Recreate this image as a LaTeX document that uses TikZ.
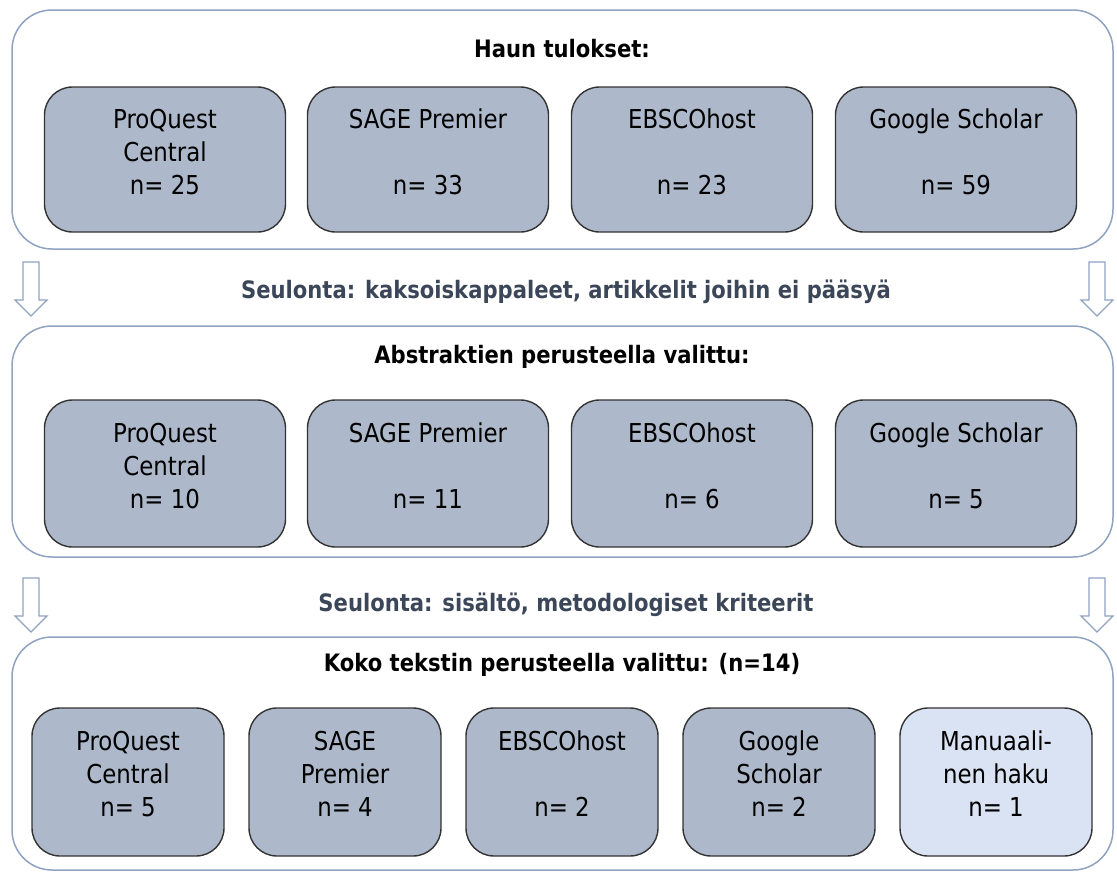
\documentclass[tikz,border=0pt]{standalone}
\usepackage{fontspec}
\setmainfont{DejaVu Sans}[FakeStretch=0.88]

\definecolor{boxfill}{HTML}{ADB9CA}
\definecolor{manfill}{HTML}{DAE3F3}
\definecolor{framecol}{HTML}{8FA3C1}
\definecolor{edgecol}{HTML}{333333}
\definecolor{screencol}{HTML}{3B4658}

\begin{document}
\begin{tikzpicture}[x=1pt,y=-1pt]
		\tikzstyle {stage} = [draw=framecol, line width=1.5pt, rounded corners=40pt, minimum width=1101pt, inner sep=0pt]
		\tikzstyle {db} = [draw=edgecol, line width=1.4pt, fill=boxfill, rounded corners=28pt, align=center, inner sep=0pt, text depth=16pt, font=\fontsize{26}{33}\selectfont]
		\tikzstyle {title} = [font=\bfseries\fontsize{24}{28}\selectfont]
		\tikzstyle {screen} = [title, text=screencol]
		\tikzstyle {blockarrow} = [draw=framecol, line width=1.2pt, fill=white]

		\useasboundingbox (0,0) rectangle (1117,873);

		% vaiheet
		\node[stage, minimum height=239pt] (haku) at (562.5,129.5) {};
		\node[stage, minimum height=231pt] (abstr) at (562.5,441.5) {};
		\node[stage, minimum height=233pt] (koko) at (562.5,753.5) {};

		\node[title] (hakuT) at (562,49) {Haun tulokset:};
		\node[title] (abstrT) at (562,357) {Abstraktien perusteella valittu:};
		\node[title] (kokoT) at (562,665) {Koko tekstin perusteella valittu: (n=14)};

		% haun tulokset
		\node[db, minimum width=241pt, minimum height=145pt] (pq1) at (165,159.5) {ProQuest\\Central\\n= 25};
		\node[db, minimum width=241pt, minimum height=145pt] (sage1) at (428,159.5) {SAGE Premier\\\mbox{}\\n= 33};
		\node[db, minimum width=241pt, minimum height=145pt] (ebsco1) at (692,159.5) {EBSCOhost\\\mbox{}\\n= 23};
		\node[db, minimum width=241pt, minimum height=145pt] (gs1) at (956,159.5) {Google Scholar\\\mbox{}\\n= 59};

		% abstraktit
		\node[db, minimum width=241pt, minimum height=147pt] (pq2) at (165,473.5) {ProQuest\\Central\\n= 10};
		\node[db, minimum width=241pt, minimum height=147pt] (sage2) at (428,473.5) {SAGE Premier\\\mbox{}\\n= 11};
		\node[db, minimum width=241pt, minimum height=147pt] (ebsco2) at (692,473.5) {EBSCOhost\\\mbox{}\\n= 6};
		\node[db, minimum width=241pt, minimum height=147pt] (gs2) at (956,473.5) {Google Scholar\\\mbox{}\\n= 5};

		% koko teksti
		\node[db, minimum width=192pt, minimum height=148pt] (pq3) at (128,782) {ProQuest\\Central\\n= 5};
		\node[db, minimum width=192pt, minimum height=148pt] (sage3) at (345,782) {SAGE\\Premier\\n= 4};
		\node[db, minimum width=192pt, minimum height=148pt] (ebsco3) at (562,782) {EBSCOhost\\\mbox{}\\n= 2};
		\node[db, minimum width=192pt, minimum height=148pt] (gs3) at (779,782) {Google\\Scholar\\n= 2};
		\node[db, fill=manfill, minimum width=192pt, minimum height=148pt] (man3) at (996,782) {Manuaali-\\nen haku\\n= 1};

		% seulonnat
		\node[screen] (seul1) at (566,292) {Seulonta: kaksoiskappaleet, artikkelit joihin ei pääsyä};
		\node[screen] (seul2) at (566,605) {Seulonta: sisältö, metodologiset kriteerit};

		\foreach \ax/\ay in {31/262, 1097/262, 31/578, 1097/578}
			\draw[blockarrow] (\ax-8,\ay) -- ++(16,0) -- ++(0,38) -- ++(8,0) -- ++(-16,16) -- ++(-16,-16) -- ++(8,0) -- cycle;

	\end{tikzpicture}
\end{document}
